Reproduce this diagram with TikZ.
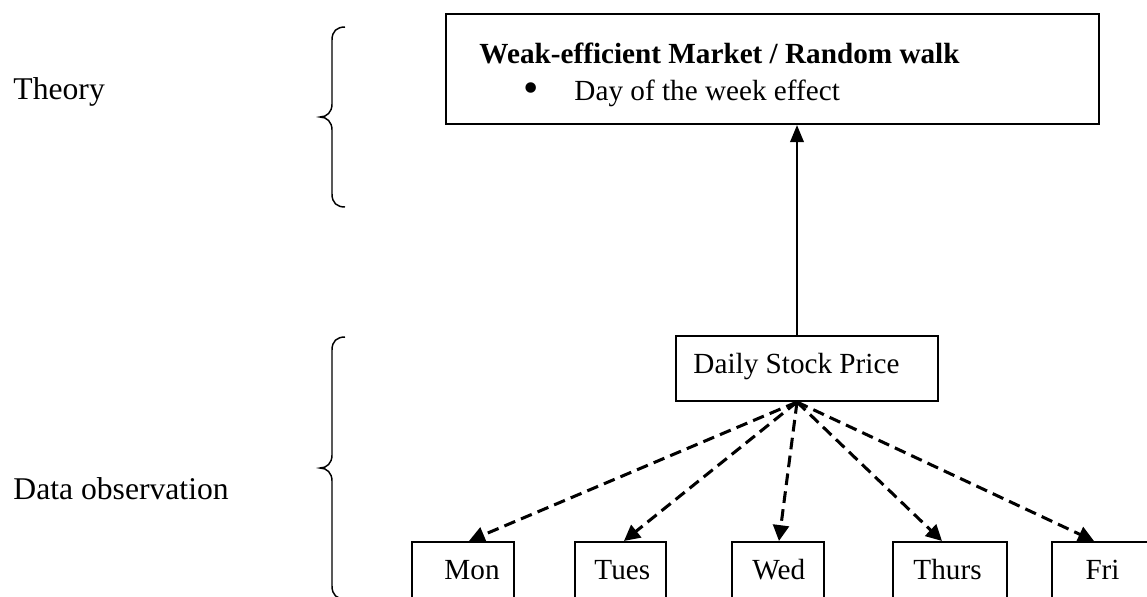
\documentclass[tikz,border=0pt]{standalone}
\usepackage{fontspec}
\setmainfont{Liberation Serif}
\usetikzlibrary{arrows.meta,fit,calc}
\newlength\pxu \setlength\pxu{0.411pt}
\begin{document}
\begin{tikzpicture}[x=0.411pt,y=-0.411pt,
 box/.style={draw, line width=0.85pt, inner sep=0pt},
 txt/.style={anchor=base west, inner sep=0pt, font=\fontsize{12}{14}\selectfont},
 boldtxt/.style={anchor=base west, inner sep=0pt, font=\fontsize{12}{14}\selectfont\bfseries},
 lab/.style={anchor=base west, inner sep=0pt, font=\fontsize{13}{15}\selectfont},
 brace/.style={line width=0.6pt},
 upar/.style={line width=1pt, -{Triangle[width=5.5pt,length=7pt]}},
 dar/.style={line width=1.25pt, dash pattern=on 4.8pt off 2.6pt, -{Triangle[width=6.5pt,length=6.5pt]}},
]
\useasboundingbox (0,0) rectangle (1147,596);
\clip (0,0) rectangle (1147,596);

% left labels
\node[lab] (theory) at (13,99) {Theory};
\node[lab] (dataobs) at (13,499) {Data observation};

% braces
\draw[brace] (345,27) .. controls (337,27) and (332,31) .. (332,40)
  -- (332,104) .. controls (332,112) and (327,117) .. (320,117)
  .. controls (327,117) and (332,122) .. (332,130)
  -- (332,194) .. controls (332,203) and (337,207) .. (345,207);
\draw[brace] (345,337) .. controls (337,337) and (332,341) .. (332,350)
  -- (332,455) .. controls (332,463) and (327,468) .. (320,468)
  .. controls (327,468) and (332,473) .. (332,481)
  -- (332,586) .. controls (332,595) and (337,599) .. (345,599);

% theory box
\node[box, fit={(446,14) (1099,124)}] (top) {};
\node[boldtxt] (title) at (479,63) {Weak-efficient Market / Random walk};
\node[anchor=base, inner sep=0pt, font=\fontsize{18}{20}\selectfont] (bullet) at (531,102) {\textbullet};
\node[txt] (day) at (574,100) {Day of the week effect};

% daily stock price
\node[box, fit={(676,336) (938,401)}] (daily) {};
\node[txt] (dailyt) at (693,373) {Daily Stock Price};

% day boxes
\node[box, fit={(412,542) (514,640)}] (mon) {};
\node[txt] (mont) at (444,579) {Mon};
\node[box, fit={(575,542) (666,640)}] (tue) {};
\node[txt] (tuet) at (594,579) {Tues};
\node[box, fit={(732,542) (824,640)}] (wed) {};
\node[txt] (wedt) at (752,579) {Wed};
\node[box, fit={(893,542) (1007,640)}] (thu) {};
\node[txt] (thut) at (913,579) {Thurs};
\node[box, fit={(1052,542) (1160,640)}] (fri) {};
\node[txt] (frit) at (1085,579) {Fri};

% connectors
\coordinate (srcN) at ([xshift=-10*\pxu]daily.north);
\coordinate (srcS) at ([xshift=-10*\pxu]daily.south);
\draw[upar] (srcN) -- (srcN |- top.south);
\draw[dar] (srcS) -- ([xshift=58*\pxu]mon.north west);
\draw[dar] (srcS) -- ([xshift=50*\pxu]tue.north west);
\draw[dar] (srcS) -- ([xshift=48*\pxu]wed.north west);
\draw[dar] (srcS) -- ([xshift=50*\pxu]thu.north west);
\draw[dar] (srcS) -- ([xshift=43*\pxu]fri.north west);
\end{tikzpicture}
\end{document}
